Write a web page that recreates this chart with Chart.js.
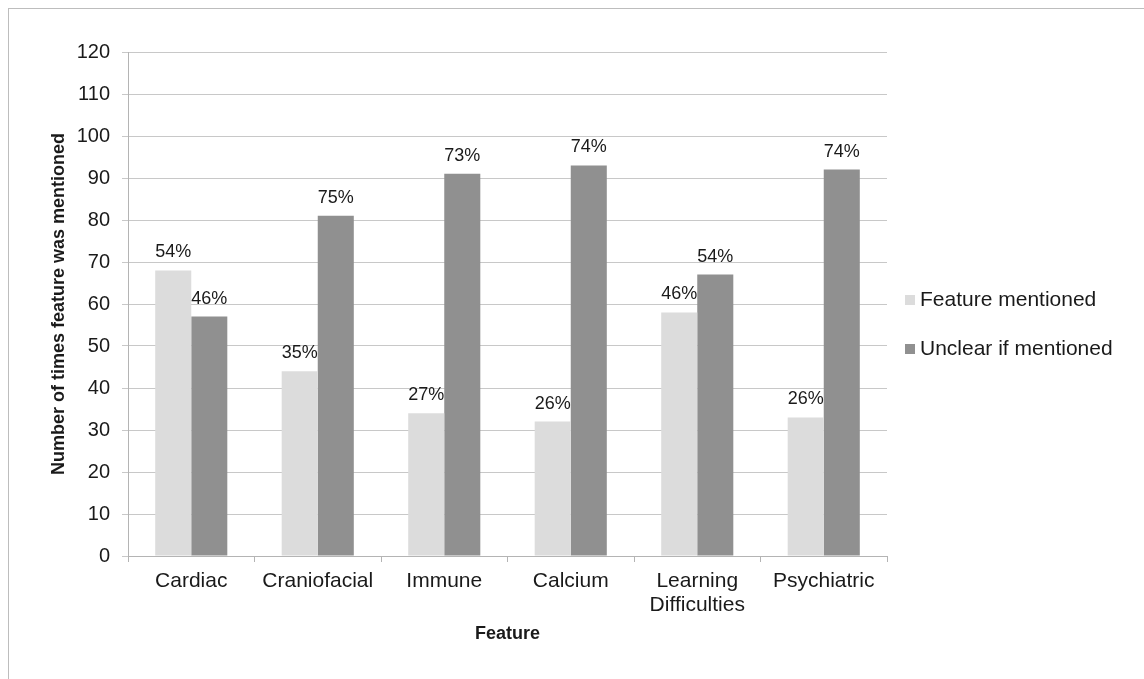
<!DOCTYPE html>
<html>
<head>
<meta charset="utf-8">
<script src="https://cdn.jsdelivr.net/npm/chart.js@4/dist/chart.umd.min.js"></script>
<style>
  body { margin: 0; background: #fff; }
  #frame { position: absolute; left: 8px; top: 8px; right: 0; bottom: 0; border-top: 1px solid #bdbdbd; border-left: 1px solid #bdbdbd; }
  #wrap { position: absolute; left: 0; top: 0; width: 1144px; height: 679px; }
</style>
</head>
<body>
<div id="frame"></div>
<div id="wrap"><canvas id="myChart" width="1144" height="679"></canvas></div>
<script>
// dados
const categorias = ['Cardiac', 'Craniofacial', 'Immune', 'Calcium', ['Learning', 'Difficulties'], 'Psychiatric'];
const mencionado = [68, 44, 34, 32, 58, 33];
const incerto = [57, 81, 91, 93, 67, 92];
const pctMencionado = ['54%', '35%', '27%', '26%', '46%', '26%'];
const pctIncerto = ['46%', '75%', '73%', '74%', '54%', '74%'];
const yTicks = [0, 10, 20, 30, 40, 50, 60, 70, 80, 90, 100, 110, 120];

const corTexto = '#1a1a1a';
const fonte = '"Liberation Sans", Arial, sans-serif';

// rótulos de percentagem em cima das barras
const rotulosPlugin = {
    id: 'rotulos',
    afterDatasetsDraw(chart) {
        const ctx = chart.ctx;
        ctx.save();
        ctx.font = '18px ' + fonte;
        ctx.fillStyle = corTexto;
        ctx.textAlign = 'center';
        ctx.textBaseline = 'alphabetic';
        chart.data.datasets.forEach((ds, i) => {
            chart.getDatasetMeta(i).data.forEach((bar, j) => {
                ctx.fillText(ds.pct[j], bar.x, bar.y - 13);
            });
        });
        ctx.restore();
    }
};

// legenda desenhada à direita
const legendaPlugin = {
    id: 'legenda',
    afterDraw(chart) {
        const ctx = chart.ctx;
        const x = chart.chartArea.right + 18;
        let y = 300;
        ctx.save();
        ctx.font = '21px ' + fonte;
        ctx.textBaseline = 'middle';
        ctx.textAlign = 'left';
        chart.data.datasets.forEach((ds) => {
            ctx.fillStyle = ds.backgroundColor;
            ctx.fillRect(x, y - 5, 10, 10);
            ctx.fillStyle = corTexto;
            ctx.fillText(ds.label, x + 15, y);
            y += 49;
        });
        ctx.restore();
    }
};

const ctx = document.getElementById('myChart').getContext('2d');
const myChart = new Chart(ctx, {
    type: 'bar',
    data: {
        labels: categorias,
        datasets: [{
            label: 'Feature mentioned',
            data: mencionado,
            pct: pctMencionado,
            backgroundColor: '#dcdcdc',
            barPercentage: 1,
            categoryPercentage: 0.57
        }, {
            label: 'Unclear if mentioned',
            data: incerto,
            pct: pctIncerto,
            backgroundColor: '#909090',
            barPercentage: 1,
            categoryPercentage: 0.57
        }]
    },
    options: {
        responsive: false,
        animation: false,
        layout: {
            padding: { top: 52, right: 257, bottom: 34, left: 0 }
        },
        plugins: {
            legend: { display: false },
            tooltip: { enabled: false }
        },
        scales: {
            x: {
                grid: {
                    offset: true,
                    drawOnChartArea: false,
                    tickLength: 6,
                    color: '#b4b4b4'
                },
                border: { color: '#b4b4b4' },
                ticks: {
                    color: corTexto,
                    autoSkip: false,
                    maxRotation: 0,
                    padding: 7,
                    font: { family: fonte, size: 21, lineHeight: 1.15 }
                },
                title: {
                    display: true,
                    text: 'Feature',
                    color: corTexto,
                    padding: { top: 0, bottom: 0 },
                    font: { family: fonte, size: 18, weight: 'bold' }
                },
                afterFit(scale) { scale.height = 89; }
            },
            y: {
                min: 0,
                max: 120,
                afterBuildTicks(scale) { scale.ticks = yTicks.map(v => ({ value: v })); },
                grid: { color: '#c8c8c8', tickLength: 6 },
                border: { color: '#b4b4b4' },
                ticks: {
                    color: corTexto,
                    padding: 12,
                    font: { family: fonte, size: 20 }
                },
                title: {
                    display: true,
                    text: 'Number of times feature was mentioned',
                    color: corTexto,
                    padding: { top: 48, bottom: 0 },
                    font: { family: fonte, size: 18, weight: 'bold' }
                },
                afterFit(scale) { scale.width = 128; }
            }
        }
    },
    plugins: [rotulosPlugin, legendaPlugin]
});
</script>
</body>
</html>
